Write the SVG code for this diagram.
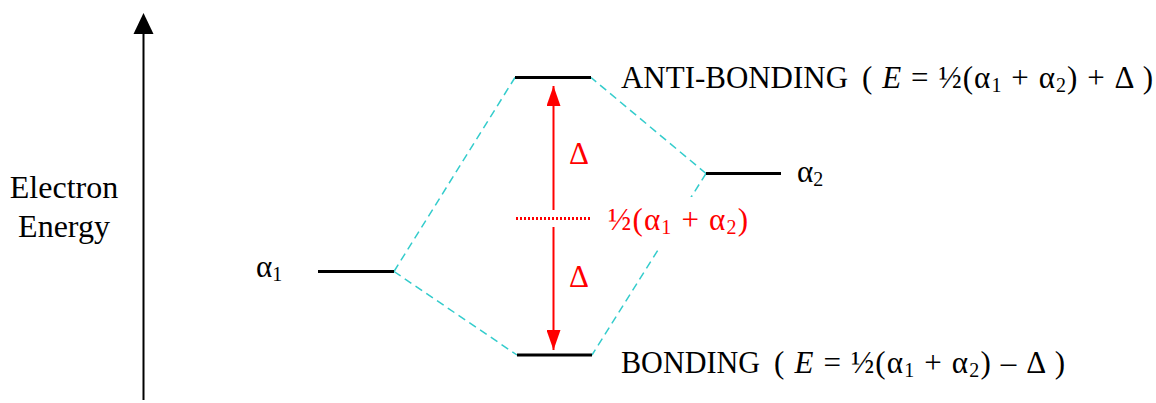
<svg xmlns="http://www.w3.org/2000/svg" width="1156" height="403" viewBox="0 0 1156 403">
<style>
text{font-family:"Liberation Serif","Times New Roman",serif;fill:#000;white-space:pre}
.lbl{font-size:31px}
.red{fill:#ff0000}
.sub{font-size:20px}
.lvl{stroke:#000;stroke-width:3;fill:none}
.dash{stroke:#33cccc;stroke-width:1.5;stroke-dasharray:8 5;fill:none}
</style>
<defs>
<marker id="rh" markerWidth="20" markerHeight="14" refX="20" refY="7" orient="auto-start-reverse" markerUnits="userSpaceOnUse" viewBox="0 0 20 14">
<path d="M0,0 L20,7 L0,14 Z" fill="#ff0000"/>
</marker>
</defs>
<rect width="1156" height="403" fill="#fff"/>

<g id="axis">
<line x1="143.5" y1="400" x2="143.5" y2="30" stroke="#000" stroke-width="2"/>
<path d="M143.5,13 L153.5,34 L133.5,34 Z" fill="#000"/>
<text x="64" y="198" text-anchor="middle" font-family="Liberation Serif, serif" style="font-size:32px">Electron</text>
<text x="64" y="237" text-anchor="middle" font-family="Liberation Serif, serif" style="font-size:32px">Energy</text>
</g>

<g id="connectors">
<line class="dash" x1="394" y1="271.5" x2="515" y2="77.5"/>
<line class="dash" x1="394" y1="271.5" x2="517" y2="355"/>
<line class="dash" x1="706" y1="173.5" x2="591" y2="77.5"/>
<line class="dash" x1="706" y1="173.5" x2="592" y2="355"/>
</g>

<g id="alpha1">
<line class="lvl" x1="318" y1="271.5" x2="394" y2="271.5"/>
<text class="lbl" x="256" y="277">α<tspan class="sub" dy="4">1</tspan></text>
</g>

<g id="alpha2">
<line class="lvl" x1="706" y1="173.5" x2="781" y2="173.5"/>
<text class="lbl" x="797" y="182">α<tspan class="sub" dy="4">2</tspan></text>
</g>

<g id="antibonding">
<line class="lvl" x1="515" y1="77.5" x2="591" y2="77.5"/>
<text class="lbl" x="621" y="88" textLength="227" lengthAdjust="spacingAndGlyphs">ANTI-BONDING</text>
<text class="lbl" x="862" y="88" textLength="291" lengthAdjust="spacing">( <tspan font-style="italic">E</tspan> = ½(α<tspan class="sub" dy="4">1</tspan><tspan dy="-4"> + α</tspan><tspan class="sub" dy="4">2</tspan><tspan dy="-4">) + Δ )</tspan></text>
</g>

<g id="bonding">
<line class="lvl" x1="517" y1="355" x2="592" y2="355"/>
<text class="lbl" x="621" y="373" textLength="139" lengthAdjust="spacingAndGlyphs">BONDING</text>
<text class="lbl" x="774" y="373" textLength="291" lengthAdjust="spacing">( <tspan font-style="italic">E</tspan> = ½(α<tspan class="sub" dy="4">1</tspan><tspan dy="-4"> + α</tspan><tspan class="sub" dy="4">2</tspan><tspan dy="-4">) – Δ )</tspan></text>
</g>

<g id="midpoint">
<rect x="600" y="197" width="156" height="52" fill="#fff"/>
<line x1="516" y1="218.5" x2="591" y2="218.5" stroke="#ff0000" stroke-width="3" stroke-dasharray="2 2"/>
<text class="lbl red" x="608" y="230" textLength="140" lengthAdjust="spacing">½(α<tspan class="sub" dy="4">1</tspan><tspan dy="-4"> + α</tspan><tspan class="sub" dy="4">2</tspan><tspan dy="-4">)</tspan></text>
</g>

<g id="delta">
<line x1="553.5" y1="210" x2="553.5" y2="86" stroke="#ff0000" stroke-width="2" marker-end="url(#rh)"/>
<line x1="553.5" y1="227" x2="553.5" y2="350" stroke="#ff0000" stroke-width="2" marker-end="url(#rh)"/>
<text class="lbl red" x="569" y="164">Δ</text>
<text class="lbl red" x="569" y="287">Δ</text>
</g>
</svg>
